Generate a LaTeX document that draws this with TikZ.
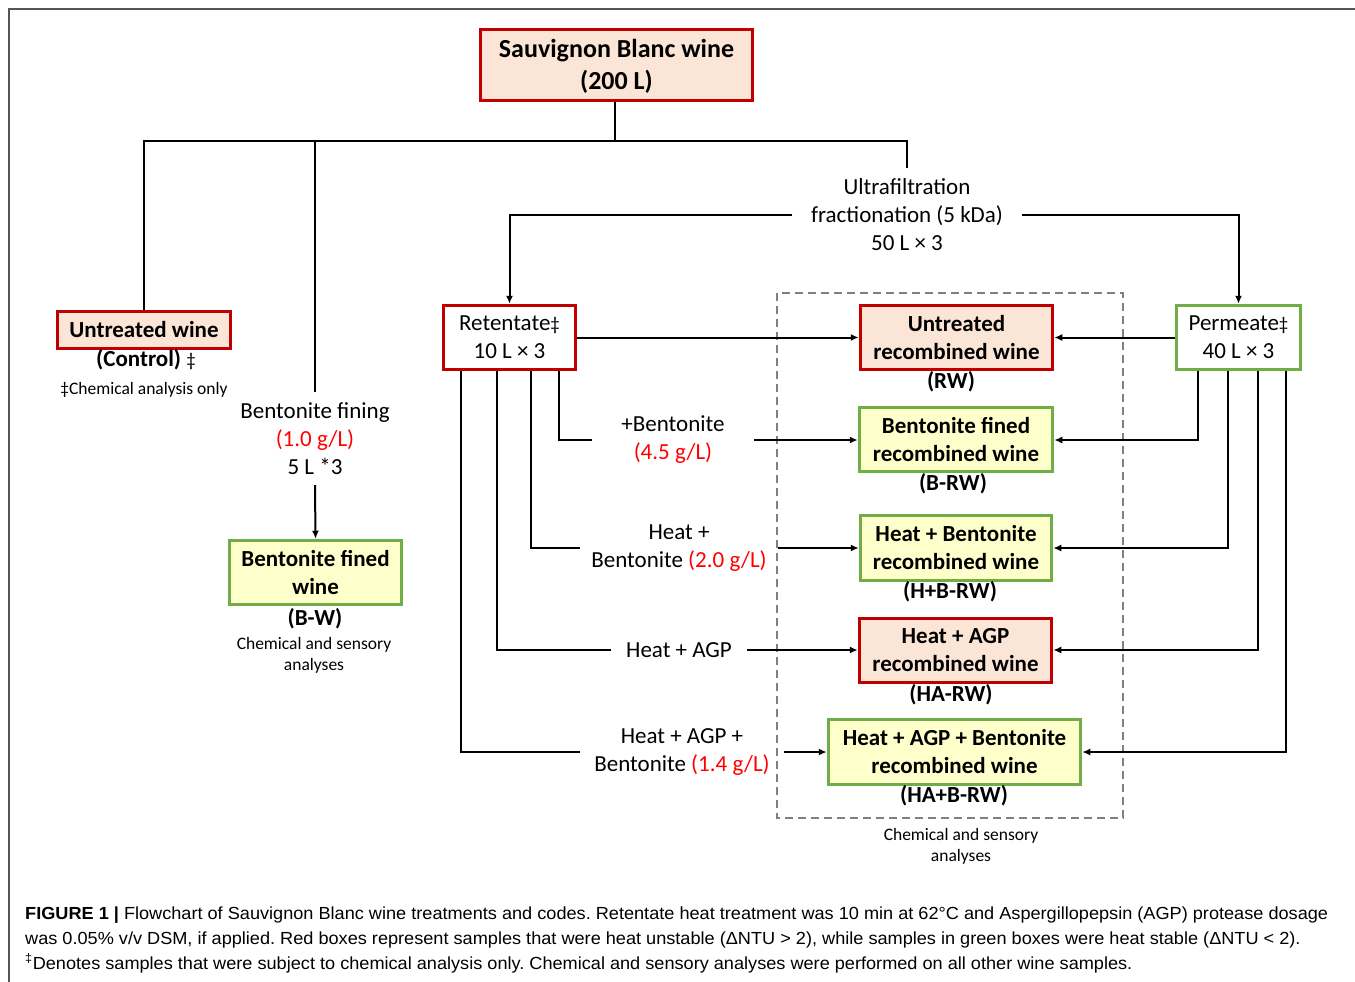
\documentclass[tikz,border=0pt]{standalone}
\usepackage{fontspec}
\setmainfont{Carlito}
\newfontfamily\capfont{Liberation Sans}
\usetikzlibrary{arrows.meta,calc}
\definecolor{boxred}{HTML}{C00000}
\definecolor{peach}{HTML}{FBE5D6}
\definecolor{boxgreen}{HTML}{70AD47}
\definecolor{paleyellow}{HTML}{FFFFCC}
\definecolor{dosered}{HTML}{FF0000}
\definecolor{dashgray}{HTML}{808080}
\definecolor{framegray}{HTML}{555555}
\definecolor{captext}{HTML}{262626}
\newcommand\bxfont{\fontsize{23}{28}\selectfont\bfseries}
\newcommand\lbfont{\fontsize{23}{28}\selectfont}
\newcommand\smfont{\fontsize{17.5}{21}\selectfont}
\newcommand\cpfont{\capfont\fontsize{17.5}{25}\selectfont}
\newcommand\mydag{{\fontsize{19}{19}\selectfont ‡}}
\newsavebox\capA
\newsavebox\capB
\newsavebox\capC
\newdimen\capw
\frenchspacing
\tikzset{
  redbox/.style={draw=boxred, fill=peach, line width=3.5, inner sep=0, align=center, font=\bxfont},
  greenbox/.style={draw=boxgreen, fill=paleyellow, line width=3.5, inner sep=0, align=center, font=\bxfont},
  redplain/.style={draw=boxred, fill=white, line width=3.5, inner sep=0, align=center, font=\lbfont},
  greenplain/.style={draw=boxgreen, fill=white, line width=3.5, inner sep=0, align=center, font=\lbfont},
  conn/.style={line width=2, black},
  arr/.style={conn, -{Latex[length=8,width=7]}},
  lbl/.style={inner sep=0, align=center, font=\lbfont},
  code/.style={inner sep=0, align=center, font=\bxfont},
  note/.style={inner sep=0, align=center, font=\smfont},
  capline/.style={inner sep=0, anchor=base west, text=captext},
}
\begin{document}
\frenchspacing
\sbox\capA{\cpfont\frenchspacing\textbf{FIGURE 1 |} Flowchart of Sauvignon Blanc wine treatments and codes. Retentate heat treatment was 10 min at 62°C and Aspergillopepsin (AGP) protease dosage}%
\sbox\capB{\cpfont\frenchspacing was 0.05\% v/v DSM, if applied. Red boxes represent samples that were heat unstable (ΔNTU > 2), while samples in green boxes were heat stable (ΔNTU < 2).}%
\sbox\capC{\cpfont\frenchspacing\textsuperscript{‡}Denotes samples that were subject to chemical analysis only. Chemical and sensory analyses were performed on all other wine samples.}%
\capw=\wd\capA
\pgfmathsetmacro\capsc{1303/\capw}%
\begin{tikzpicture}[x=1pt,y=-1pt]
\useasboundingbox (0,0) rectangle (1355,982);
\fill[white] (0,0) rectangle (1355,982);
\draw[framegray, line width=2.5] (9,982) -- (9,9) -- (1355,9);

% dashed group
\draw[dashgray, line width=2, dash pattern=on 8 off 5] (777,293) rectangle (1123,818);

% boxes
\node[redbox, minimum width=272, minimum height=71, font=\fontsize{26}{32}\selectfont\bfseries] (top) at (616.5,65) {\rule{0pt}{20pt}Sauvignon Blanc wine\\(200 L)};
\node[redbox, minimum width=173, minimum height=37] (untr) at (144,330) {Untreated wine};
\node[greenbox, minimum width=172, minimum height=64] (bfw) at (315.5,572.5) {Bentonite fined\\wine};
\node[redplain, minimum width=132, minimum height=64] (ret) at (509.5,337.5) {Retentate\mydag\\10 L × 3};
\node[greenplain, minimum width=124, minimum height=64] (perm) at (1238.5,337.5) {Permeate\mydag\\40 L × 3};

\node[redbox, minimum width=192, minimum height=64] (urw) at (956.5,337.5) {Untreated\\recombined wine};
\node[greenbox, minimum width=193, minimum height=64] (bfrw) at (956,439.5) {Bentonite fined\\recombined wine};
\node[greenbox, minimum width=191, minimum height=65] (hbrw) at (956,548) {Heat + Bentonite\\recombined wine};
\node[redbox, minimum width=192, minimum height=64] (harw) at (955.5,650.5) {Heat + AGP\\recombined wine};
\node[greenbox, minimum width=252, minimum height=65] (habrw) at (954.5,752) {Heat + AGP + Bentonite\\recombined wine};

% codes and notes
\node[code] (ctl) at (146,360) {(Control) {\mdseries\mydag}};
\node[note] (chemonly) at (144,390) {‡Chemical analysis only};
\node[code] (bwcode) at (315,619) {(B-W)};
\node[note] (bwnote) at (314,655.5) {Chemical and sensory\\analyses};
\node[code] (rwcode) at (951,382) {(RW)};
\node[code] (brwcode) at (953,484) {(B-RW)};
\node[code] (hbrwcode) at (950,592) {(H+B-RW)};
\node[code] (harwcode) at (951,695) {(HA-RW)};
\node[code] (habrwcode) at (954,796) {(HA+B-RW)};
\node[note] (grpnote) at (961,846) {Chemical and sensory\\analyses};

% process labels
\node[lbl, minimum width=229, minimum height=94] (ufl) at (907,215) {Ultrafiltration\\fractionation (5 kDa)\\50 L × 3};
\node[lbl, minimum width=40, minimum height=93] (bfin) at (315,438.5) {Bentonite fining\\\textcolor{dosered}{(1.0 g/L)}\\5 L *3};
\node[lbl, minimum width=162, minimum height=56] (lb1) at (673,440) {+Bentonite\\\textcolor{dosered}{(4.5 g/L)}};
\node[lbl, minimum width=198, minimum height=56] (lb2) at (679,548) {Heat +\\Bentonite \textcolor{dosered}{(2.0 g/L)}};
\node[lbl, minimum width=136, minimum height=28] (lb3) at (679,650) {Heat + AGP};
\node[lbl, minimum width=204, minimum height=56] (lb4) at (682,752) {Heat + AGP +\\Bentonite \textcolor{dosered}{(1.4 g/L)}};

% connectors
\coordinate (br) at (615,141);
\draw[conn] (top.south -| br) -- (br);
\draw[conn] (untr.north) |- (br) -| (ufl.north);
\draw[conn] (bfin.north) -- (bfin.north |- br);
\draw[arr] (bfin.south) -- (bfw.north);
\draw[arr] (ufl.west) -| (ret.north);
\draw[arr] (ufl.east) -| (perm.north);
\draw[arr] (ret.east) -- (urw.west);
\draw[arr] (perm.west) -- (urw.east);

\draw[conn] ($(ret.south)+(49.5,0)$) |- (lb1.west);
\draw[arr] (lb1.east) -- (lb1.east -| bfrw.west);
\draw[conn] ($(ret.south)+(21.5,0)$) |- (lb2.west);
\draw[arr] (lb2.east) -- (lb2.east -| hbrw.west);
\draw[conn] ($(ret.south)+(-12.5,0)$) |- (lb3.west);
\draw[arr] (lb3.east) -- (lb3.east -| harw.west);
\draw[conn] ($(ret.south)+(-48.5,0)$) |- (lb4.west);
\draw[arr] (lb4.east) -- (lb4.east -| habrw.west);

\draw[arr] ($(perm.south)+(-40.5,0)$) |- (lb1.east -| bfrw.east);
\draw[arr] ($(perm.south)+(-10.5,0)$) |- (lb2.east -| hbrw.east);
\draw[arr] ($(perm.south)+(19.5,0)$) |- (lb3.east -| harw.east);
\draw[arr] ($(perm.south)+(47.5,0)$) |- (lb4.east -| habrw.east);

% caption
\node[capline] (cap1) at (25,919) {\scalebox{\capsc}[1]{\usebox\capA}};
\node[capline] (cap2) at (25,944) {\scalebox{\capsc}[1]{\usebox\capB}};
\node[capline] (cap3) at (25,969) {\scalebox{\capsc}[1]{\usebox\capC}};
\end{tikzpicture}
\end{document}
